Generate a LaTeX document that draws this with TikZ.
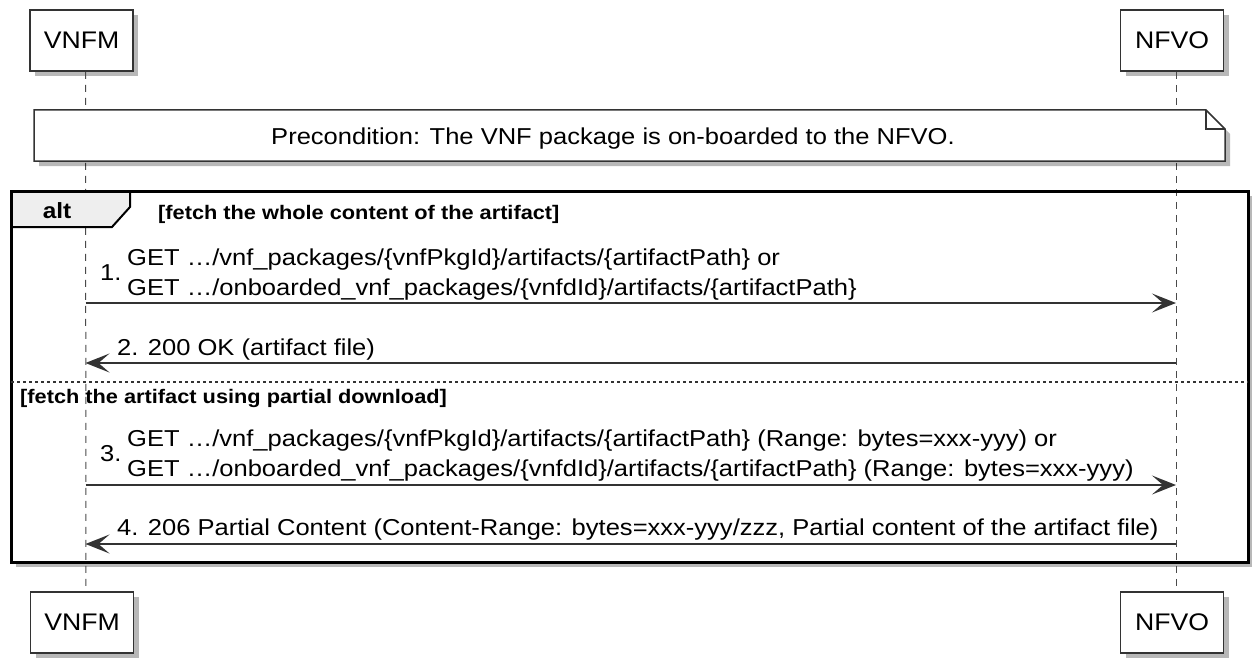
\documentclass[tikz,border=0pt]{standalone}
\usepackage{fontspec}
\setmainfont{Liberation Sans}[FakeStretch=1.11]
\usetikzlibrary{arrows.meta,shadows}
\definecolor{Edge}{HTML}{333333}
\definecolor{Life}{HTML}{4A4A4A}
\definecolor{TabFill}{HTML}{EEEEEE}

\begin{document}
\begin{tikzpicture}[x=1pt,y=-1pt,
  boxshadow/.style={drop shadow={shadow xshift=5pt,shadow yshift=-5pt,fill=black,opacity=0.28}},
  actor/.style={draw=Edge,line width=1.8pt,fill=white,boxshadow,minimum width=103pt,minimum height=61pt,inner sep=0pt,font=\fontsize{24}{28}\selectfont},
  lifeline/.style={Life,line width=1pt,dash pattern=on 7pt off 6pt},
  msg/.style={Edge,line width=1.5pt,-{Stealth[length=24pt,width=19pt,inset=11pt]}},
  msgtext/.style={anchor=base west,inner sep=0pt,font=\fontsize{23}{27}\selectfont},
  guard/.style={anchor=base west,inner sep=0pt,font=\bfseries\fontsize{19.6}{24}\selectfont}]
  \useasboundingbox (0,0) rectangle (1252,658);
  \fill[white,boxshadow] (11,191) rectangle (1248,562);
  \node[actor] (vnfm) at (81.5,40.5) {VNFM};
  \node[actor] (nfvo) at (1172,40.5) {NFVO};
  \node[actor] (vnfmB) at (82,622.5) {VNFM};
  \node[actor] (nfvoB) at (1172,622.5) {NFVO};
  \coordinate (lv) at ([xshift=4pt]vnfm.south);
  \coordinate (ln) at ([xshift=4pt]nfvo.south);
  \draw[lifeline] (lv) -- ([xshift=4pt]vnfmB.north);
  \draw[lifeline] (ln) -- ([xshift=4pt]nfvoB.north);
  \filldraw[draw=Edge,fill=white,line width=1.5pt,boxshadow]
    (34,110) -- (1206,110) -- (1225,129) -- (1225,161) -- (34,161) -- cycle;
  \draw[Edge,line width=1.5pt] (1206,110) -- (1206,129) -- (1225,129);
  \node[msgtext,anchor=base] (pre) at (613,144) {Precondition: The VNF package is on-boarded to the NFVO.};
  \filldraw[draw=black,fill=TabFill,line width=2pt]
    (11,191) -- (130,191) -- (130,207) -- (112,227) -- (11,227) -- cycle;
  \draw[black,line width=3pt] (11,191) rectangle (1248,562);
  \node[guard,anchor=base,font=\bfseries\fontsize{22}{26}\selectfont] (alt) at (57,218) {alt};
  \node[guard] (g1) at (158,219) {[fetch the whole content of the artifact]};
  \draw[Edge,line width=1.4pt,dash pattern=on 3pt off 3pt] (11,382) -- (1248,382);
  \node[guard] (g2) at (20,403) {[fetch the artifact using partial download]};
  \foreach \m/\y in {1/303,2/363,3/485,4/544} {
    \coordinate (v\m) at (lv |- 0,\y);
    \coordinate (n\m) at (ln |- 0,\y);
  }
  \draw[msg] (v1) -- (n1);
  \draw[msg] (n2) -- (v2);
  \draw[msg] (v3) -- (n3);
  \draw[msg] (n4) -- (v4);
  \node[msgtext] (s1) at (100,280) {1.};
  \node[msgtext] (t1a) at (127,265) {GET …/vnf\_packages/\{vnfPkgId\}/artifacts/\{artifactPath\} or};
  \node[msgtext] (t1b) at (127,295) {GET …/onboarded\_vnf\_packages/\{vnfdId\}/artifacts/\{artifactPath\}};
  \node[msgtext] (t2) at (117,355) {2. 200 OK (artifact file)};
  \node[msgtext] (s3) at (100,461) {3.};
  \node[msgtext] (t3a) at (127,446) {GET …/vnf\_packages/\{vnfPkgId\}/artifacts/\{artifactPath\} (Range: bytes=xxx-yyy) or};
  \node[msgtext] (t3b) at (127,476) {GET …/onboarded\_vnf\_packages/\{vnfdId\}/artifacts/\{artifactPath\} (Range: bytes=xxx-yyy)};
  \node[msgtext] (t4) at (117,535) {4. 206 Partial Content (Content-Range: bytes=xxx-yyy/zzz, Partial content of the artifact file)};
\end{tikzpicture}
\end{document}
